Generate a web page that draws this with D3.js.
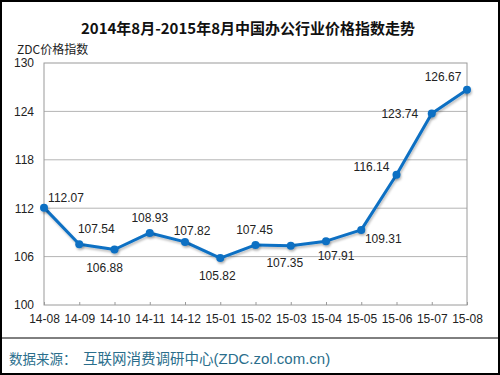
<!DOCTYPE html>
<html>
<head>
<meta charset="utf-8">
<script src="https://cdn.jsdelivr.net/npm/d3@7"></script>
<style>
  body { margin: 0; background: #fff; }
  svg { display: block; }
</style>
</head>
<body>
<div id="chart"></div>
<script>
// chart data
const months = ["14-08", "14-09", "14-10", "14-11", "14-12", "15-01", "15-02",
                "15-03", "15-04", "15-05", "15-06", "15-07", "15-08"]
const priceIndex = [112.07, 107.54, 106.88, 108.93, 107.82, 105.82, 107.45,
                    107.35, 107.91, 109.31, 116.14, 123.74, 126.67]
const yTicks = [100, 106, 112, 118, 124, 130]

// where each value label sits relative to its point
const labelOffsets = [[22, -10], [17, -15], [-10, 18], [0, -15], [7, -11], [-3, 18],
                      [-1, -15], [-6, 17], [10, 15], [22, 9], [-25, -8], [-32, 0], [-24, -13]]

const width = 500, height = 375
const margin = { top: 63, right: 33, bottom: 70, left: 44 }
const plotW = width - margin.left - margin.right
const plotH = height - margin.top - margin.bottom
const font = "'Liberation Sans', Arial, sans-serif"
const cjk = "'Noto Sans CJK SC', sans-serif"

const svg = d3.select("#chart")
  .append("svg")
    .attr("width", width)
    .attr("height", height)

// outer frame
svg.append("rect")
  .attr("x", 1).attr("y", 1)
  .attr("width", width - 2).attr("height", height - 2)
  .attr("fill", "#fff")
  .attr("stroke", "#000")
  .attr("stroke-width", 2)

// title
svg.append("text")
  .attr("x", 248).attr("y", 34)
  .attr("text-anchor", "middle")
  .attr("font-family", cjk)
  .attr("font-weight", "bold")
  .attr("font-size", 15)
  .attr("fill", "#111")
  .text("2014年8月-2015年8月中国办公行业价格指数走势")

svg.append("text")
  .attr("x", 17).attr("y", 54)
  .attr("font-family", cjk)
  .attr("font-size", 12)
  .attr("fill", "#222")
  .text("ZDC价格指数")

const g = svg.append("g")
  .attr("transform", "translate(" + margin.left + "," + margin.top + ")")

const x = d3.scalePoint()
  .domain(months)
  .range([0, plotW])

const y = d3.scaleLinear()
  .domain([100, 130])
  .range([plotH, 0])

// horizontal grid
g.append("g")
  .selectAll("line")
  .data(yTicks.slice(1, -1))
  .join("line")
    .attr("x1", 0).attr("x2", plotW)
    .attr("y1", d => y(d)).attr("y2", d => y(d))
    .attr("stroke", "#b4b4b4")
    .attr("stroke-width", 1)

// plot frame
g.append("rect")
  .attr("x", 0).attr("y", 0)
  .attr("width", plotW).attr("height", plotH)
  .attr("fill", "none")
  .attr("stroke", "#9a9a9a")
  .attr("stroke-width", 1)

// x axis
const xAxis = g.append("g")
  .attr("transform", `translate(0,${plotH})`)
  .call(d3.axisBottom(x).tickSize(-3).tickPadding(9))
xAxis.select(".domain").remove()
xAxis.selectAll("line").attr("stroke", "#9a9a9a")
xAxis.selectAll("text")
  .attr("font-family", font)
  .attr("font-size", 12)
  .attr("fill", "#222")

// y axis
const yAxis = g.append("g")
  .call(d3.axisLeft(y).tickValues(yTicks).tickSize(0).tickPadding(10))
yAxis.select(".domain").remove()
yAxis.selectAll("text")
  .attr("font-family", font)
  .attr("font-size", 12)
  .attr("fill", "#222")

// shadow for line and markers
const defs = svg.append("defs")
const shadow = defs.append("filter").attr("id", "shadow")
  .attr("x", "-50%").attr("y", "-50%").attr("width", "200%").attr("height", "200%")
shadow.append("feDropShadow")
  .attr("dx", 1).attr("dy", 2)
  .attr("stdDeviation", 1.2)
  .attr("flood-color", "#000")
  .attr("flood-opacity", 0.25)

const lineColor = "#0b6fc3"

g.append("path")
  .datum(priceIndex)
  .attr("fill", "none")
  .attr("stroke", lineColor)
  .attr("stroke-width", 3)
  .attr("stroke-linejoin", "round")
  .attr("filter", "url(#shadow)")
  .attr("d", d3.line()
    .x((d, i) => x(months[i]))
    .y(d => y(d)))

g.append("g")
  .selectAll("circle")
  .data(priceIndex)
  .join("circle")
    .attr("cx", (d, i) => x(months[i]))
    .attr("cy", d => y(d))
    .attr("r", 4)
    .attr("fill", lineColor)
    .attr("filter", "url(#shadow)")

// value labels
g.append("g")
  .selectAll("text")
  .data(priceIndex)
  .join("text")
    .attr("x", (d, i) => x(months[i]) + labelOffsets[i][0])
    .attr("y", (d, i) => y(d) + labelOffsets[i][1])
    .attr("dy", "0.35em")
    .attr("text-anchor", "middle")
    .attr("font-family", font)
    .attr("font-size", 12)
    .attr("fill", "#222")
    .text(d => d.toFixed(2))

// footer
svg.append("line")
  .attr("x1", 2).attr("x2", width - 2)
  .attr("y1", 338).attr("y2", 338)
  .attr("stroke", "#000")
  .attr("stroke-width", 1)

const footer = svg.append("text")
  .attr("y", 364)
  .attr("font-family", cjk)
  .attr("fill", "#2a6e8c")
footer.append("tspan")
  .attr("x", 9)
  .attr("font-size", 13.5)
  .text("数据来源：")
footer.append("tspan")
  .attr("x", 83)
  .attr("font-size", 14.5)
  .text("互联网消费调研中心")
footer.append("tspan")
  .attr("font-family", font)
  .attr("font-size", 15)
  .text("(ZDC.zol.com.cn)")
</script>
</body>
</html>
